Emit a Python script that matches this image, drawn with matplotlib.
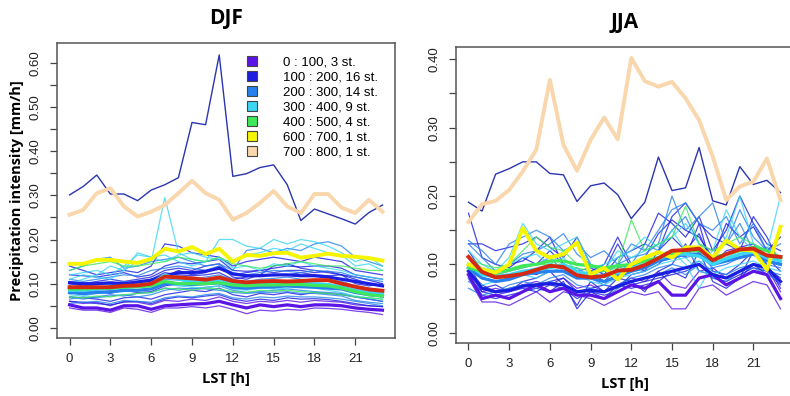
import matplotlib
matplotlib.use('Agg')
import matplotlib.pyplot as plt
from matplotlib.patches import Patch

hours = list(range(24))

group_labels = ['0 : 100, 3 st.', '100 : 200, 16 st.', '200 : 300, 14 st.', '300 : 400, 9 st.',
                '400 : 500, 4 st.', '600 : 700, 1 st.', '700 : 800, 1 st.']
group_colors = ['#5a14e6', '#1a1ee0', '#2680ee', '#3ad6f2', '#3ee85a', '#f5f500', '#f9d6ab']
navy = '#2a35b0'
red = '#d42a12'

# ---------------- DJF ----------------
djf_outlier = [0.301, 0.32, 0.346, 0.303, 0.303, 0.288, 0.312, 0.324, 0.34, 0.465, 0.46, 0.618,
               0.343, 0.349, 0.363, 0.369, 0.324, 0.243, 0.269, 0.258, 0.247, 0.235, 0.261, 0.278]
djf_peach = [0.256, 0.267, 0.305, 0.316, 0.275, 0.252, 0.263, 0.278, 0.305, 0.333, 0.305, 0.29,
             0.245, 0.26, 0.283, 0.31, 0.275, 0.26, 0.303, 0.303, 0.272, 0.26, 0.29, 0.263]
djf_yellow = [0.145, 0.145, 0.154, 0.154, 0.15, 0.147, 0.156, 0.179, 0.173, 0.183, 0.167, 0.179,
              0.15, 0.165, 0.163, 0.169, 0.17, 0.159, 0.163, 0.168, 0.163, 0.161, 0.158, 0.152]
djf_mean = [0.092, 0.092, 0.092, 0.092, 0.095, 0.096, 0.1, 0.116, 0.114, 0.112, 0.109, 0.114,
            0.106, 0.103, 0.105, 0.106, 0.105, 0.106, 0.108, 0.108, 0.1, 0.093, 0.087, 0.084]

djf_thin = {
    0: [[0.045, 0.04, 0.04, 0.035, 0.045, 0.042, 0.035, 0.045, 0.045, 0.048, 0.045, 0.05,
         0.042, 0.032, 0.04, 0.038, 0.042, 0.04, 0.045, 0.044, 0.042, 0.038, 0.035, 0.03],
        [0.06, 0.055, 0.058, 0.05, 0.06, 0.058, 0.052, 0.062, 0.06, 0.065, 0.062, 0.07,
         0.06, 0.055, 0.06, 0.058, 0.062, 0.058, 0.062, 0.06, 0.058, 0.052, 0.05, 0.048]],
    1: [[0.14, 0.13, 0.12, 0.125, 0.13, 0.125, 0.14, 0.19, 0.185, 0.17, 0.165, 0.16,
         0.14, 0.15, 0.155, 0.16, 0.155, 0.15, 0.16, 0.155, 0.15, 0.13, 0.125, 0.12],
        [0.1, 0.095, 0.098, 0.1, 0.09, 0.095, 0.1, 0.115, 0.13, 0.12, 0.125, 0.14,
         0.115, 0.11, 0.12, 0.118, 0.12, 0.125, 0.12, 0.118, 0.12, 0.11, 0.1, 0.095],
        [0.08, 0.075, 0.08, 0.078, 0.085, 0.08, 0.082, 0.095, 0.1, 0.098, 0.105, 0.1,
         0.09, 0.088, 0.092, 0.09, 0.095, 0.098, 0.095, 0.09, 0.09, 0.085, 0.08, 0.075],
        [0.07, 0.068, 0.065, 0.06, 0.068, 0.07, 0.065, 0.075, 0.08, 0.085, 0.082, 0.09,
         0.075, 0.07, 0.078, 0.075, 0.08, 0.075, 0.08, 0.078, 0.075, 0.07, 0.065, 0.06],
        [0.12, 0.118, 0.115, 0.12, 0.125, 0.115, 0.12, 0.14, 0.148, 0.145, 0.15, 0.155,
         0.13, 0.128, 0.13, 0.135, 0.14, 0.138, 0.14, 0.14, 0.135, 0.12, 0.115, 0.11],
        [0.09, 0.088, 0.09, 0.095, 0.1, 0.098, 0.11, 0.125, 0.12, 0.118, 0.12, 0.125,
         0.11, 0.115, 0.12, 0.14, 0.145, 0.135, 0.13, 0.125, 0.12, 0.1, 0.095, 0.1],
        [0.105, 0.1, 0.105, 0.11, 0.105, 0.11, 0.115, 0.13, 0.135, 0.13, 0.14, 0.145,
         0.12, 0.125, 0.13, 0.125, 0.13, 0.13, 0.125, 0.128, 0.12, 0.115, 0.108, 0.1],
        [0.06, 0.058, 0.055, 0.052, 0.058, 0.06, 0.055, 0.065, 0.07, 0.068, 0.072, 0.075,
         0.065, 0.06, 0.065, 0.062, 0.068, 0.065, 0.066, 0.064, 0.06, 0.055, 0.05, 0.048]],
    2: [[0.13, 0.14, 0.155, 0.16, 0.135, 0.14, 0.15, 0.155, 0.16, 0.15, 0.14, 0.145,
         0.13, 0.175, 0.18, 0.17, 0.18, 0.175, 0.19, 0.195, 0.185, 0.16, 0.15, 0.14],
        [0.085, 0.08, 0.085, 0.088, 0.09, 0.092, 0.095, 0.11, 0.108, 0.105, 0.1, 0.11,
         0.098, 0.095, 0.1, 0.098, 0.1, 0.095, 0.098, 0.095, 0.09, 0.08, 0.075, 0.07],
        [0.065, 0.07, 0.068, 0.072, 0.075, 0.07, 0.075, 0.085, 0.09, 0.088, 0.092, 0.095,
         0.085, 0.08, 0.082, 0.085, 0.088, 0.085, 0.082, 0.08, 0.078, 0.07, 0.065, 0.06],
        [0.11, 0.105, 0.11, 0.115, 0.12, 0.118, 0.13, 0.135, 0.14, 0.135, 0.13, 0.14,
         0.125, 0.12, 0.125, 0.13, 0.128, 0.125, 0.13, 0.128, 0.125, 0.115, 0.11, 0.105],
        [0.055, 0.058, 0.06, 0.055, 0.062, 0.06, 0.058, 0.068, 0.072, 0.07, 0.075, 0.078,
         0.068, 0.065, 0.07, 0.068, 0.072, 0.07, 0.07, 0.068, 0.065, 0.06, 0.055, 0.05],
        [0.095, 0.09, 0.1, 0.098, 0.105, 0.1, 0.11, 0.115, 0.118, 0.11, 0.115, 0.12,
         0.108, 0.105, 0.11, 0.112, 0.115, 0.11, 0.108, 0.11, 0.105, 0.095, 0.09, 0.085],
        [0.07, 0.065, 0.07, 0.075, 0.072, 0.078, 0.08, 0.09, 0.085, 0.09, 0.088, 0.085,
         0.08, 0.078, 0.08, 0.08, 0.082, 0.078, 0.078, 0.075, 0.072, 0.062, 0.058, 0.055]],
    3: [[0.11, 0.12, 0.115, 0.11, 0.13, 0.15, 0.15, 0.295, 0.17, 0.155, 0.15, 0.16,
         0.135, 0.14, 0.13, 0.145, 0.14, 0.15, 0.14, 0.135, 0.13, 0.12, 0.115, 0.11],
        [0.1, 0.11, 0.12, 0.14, 0.13, 0.17, 0.16, 0.165, 0.15, 0.14, 0.15, 0.2,
         0.2, 0.185, 0.18, 0.2, 0.19, 0.2, 0.195, 0.185, 0.17, 0.15, 0.16, 0.14],
        [0.075, 0.072, 0.078, 0.08, 0.082, 0.085, 0.09, 0.1, 0.095, 0.092, 0.09, 0.095,
         0.088, 0.085, 0.09, 0.088, 0.09, 0.092, 0.09, 0.085, 0.08, 0.072, 0.068, 0.065],
        [0.09, 0.088, 0.09, 0.092, 0.095, 0.1, 0.105, 0.12, 0.115, 0.11, 0.108, 0.115,
         0.105, 0.1, 0.1, 0.105, 0.1, 0.105, 0.102, 0.1, 0.095, 0.085, 0.08, 0.078],
        [0.12, 0.125, 0.13, 0.12, 0.14, 0.165, 0.16, 0.15, 0.165, 0.17, 0.16, 0.155,
         0.15, 0.165, 0.17, 0.18, 0.175, 0.19, 0.18, 0.17, 0.165, 0.14, 0.145, 0.13]],
    4: [[0.13, 0.14, 0.145, 0.15, 0.14, 0.14, 0.145, 0.15, 0.16, 0.155, 0.15, 0.16,
         0.145, 0.14, 0.135, 0.14, 0.145, 0.15, 0.145, 0.14, 0.14, 0.135, 0.13, 0.13],
        [0.07, 0.068, 0.072, 0.07, 0.075, 0.078, 0.08, 0.09, 0.088, 0.085, 0.09, 0.088,
         0.082, 0.08, 0.085, 0.083, 0.085, 0.082, 0.08, 0.078, 0.075, 0.07, 0.068, 0.065]],
}
djf_group_mean = {
    0: [0.052, 0.045, 0.045, 0.04, 0.05, 0.05, 0.042, 0.05, 0.052, 0.054, 0.055, 0.06,
        0.052, 0.045, 0.052, 0.048, 0.052, 0.048, 0.052, 0.052, 0.05, 0.045, 0.042, 0.04],
    1: [0.102, 0.1, 0.1, 0.102, 0.1, 0.104, 0.108, 0.118, 0.125, 0.125, 0.128, 0.135,
        0.122, 0.118, 0.118, 0.12, 0.12, 0.118, 0.118, 0.115, 0.11, 0.105, 0.1, 0.095],
    2: [0.08, 0.078, 0.08, 0.082, 0.085, 0.085, 0.088, 0.1, 0.1, 0.098, 0.1, 0.102,
        0.092, 0.09, 0.092, 0.093, 0.095, 0.093, 0.092, 0.09, 0.088, 0.08, 0.075, 0.072],
    3: [0.085, 0.085, 0.088, 0.09, 0.092, 0.095, 0.1, 0.12, 0.11, 0.105, 0.105, 0.11,
        0.1, 0.098, 0.1, 0.1, 0.102, 0.1, 0.1, 0.098, 0.092, 0.085, 0.08, 0.078],
    4: [0.088, 0.088, 0.09, 0.09, 0.092, 0.093, 0.095, 0.105, 0.1, 0.1, 0.1, 0.102,
        0.097, 0.095, 0.097, 0.097, 0.098, 0.098, 0.096, 0.095, 0.09, 0.082, 0.075, 0.072],
}

# ---------------- JJA ----------------
jja_outlier = [0.191, 0.178, 0.232, 0.24, 0.25, 0.25, 0.233, 0.231, 0.192, 0.215, 0.219, 0.202,
               0.167, 0.191, 0.257, 0.208, 0.212, 0.271, 0.193, 0.187, 0.243, 0.217, 0.223, 0.205]
jja_peach = [0.162, 0.188, 0.193, 0.209, 0.236, 0.268, 0.37, 0.275, 0.237, 0.282, 0.315, 0.283,
             0.402, 0.368, 0.36, 0.367, 0.343, 0.311, 0.258, 0.194, 0.214, 0.221, 0.255, 0.194]
jja_yellow = [0.1, 0.093, 0.088, 0.1, 0.153, 0.12, 0.11, 0.115, 0.132, 0.085, 0.095, 0.078,
              0.1, 0.11, 0.118, 0.11, 0.125, 0.125, 0.11, 0.135, 0.122, 0.12, 0.092, 0.155]
jja_mean = [0.111, 0.089, 0.081, 0.083, 0.086, 0.092, 0.098, 0.096, 0.084, 0.081, 0.083, 0.091,
            0.092, 0.099, 0.109, 0.12, 0.121, 0.123, 0.106, 0.115, 0.122, 0.123, 0.113, 0.111]

jja_thin = {
    0: [[0.08, 0.045, 0.045, 0.04, 0.05, 0.06, 0.045, 0.06, 0.055, 0.05, 0.04, 0.05,
         0.06, 0.055, 0.06, 0.035, 0.035, 0.065, 0.07, 0.055, 0.065, 0.075, 0.07, 0.035],
        [0.09, 0.06, 0.065, 0.06, 0.07, 0.075, 0.07, 0.08, 0.065, 0.07, 0.06, 0.07,
         0.08, 0.075, 0.09, 0.07, 0.065, 0.09, 0.095, 0.08, 0.09, 0.1, 0.095, 0.06]],
    1: [[0.13, 0.13, 0.12, 0.125, 0.13, 0.14, 0.125, 0.11, 0.14, 0.1, 0.09, 0.13,
         0.095, 0.11, 0.145, 0.165, 0.15, 0.14, 0.11, 0.16, 0.14, 0.155, 0.12, 0.14],
        [0.1, 0.065, 0.07, 0.06, 0.075, 0.08, 0.09, 0.07, 0.04, 0.075, 0.06, 0.08,
         0.075, 0.06, 0.09, 0.1, 0.13, 0.09, 0.085, 0.07, 0.08, 0.12, 0.1, 0.065],
        [0.11, 0.08, 0.075, 0.08, 0.09, 0.085, 0.095, 0.1, 0.085, 0.09, 0.075, 0.095,
         0.1, 0.11, 0.12, 0.14, 0.12, 0.145, 0.1, 0.12, 0.125, 0.13, 0.11, 0.09],
        [0.09, 0.07, 0.06, 0.065, 0.07, 0.07, 0.075, 0.08, 0.06, 0.065, 0.07, 0.065,
         0.085, 0.09, 0.1, 0.12, 0.11, 0.16, 0.09, 0.085, 0.1, 0.12, 0.095, 0.08],
        [0.175, 0.11, 0.1, 0.095, 0.11, 0.1, 0.12, 0.1, 0.09, 0.095, 0.085, 0.11,
         0.12, 0.13, 0.175, 0.16, 0.14, 0.17, 0.12, 0.15, 0.2, 0.16, 0.13, 0.12],
        [0.08, 0.06, 0.055, 0.06, 0.065, 0.06, 0.07, 0.065, 0.05, 0.06, 0.055, 0.06,
         0.07, 0.075, 0.08, 0.085, 0.09, 0.1, 0.08, 0.075, 0.085, 0.095, 0.09, 0.07],
        [0.12, 0.09, 0.085, 0.1, 0.105, 0.12, 0.14, 0.1, 0.08, 0.09, 0.1, 0.14,
         0.1, 0.09, 0.12, 0.17, 0.19, 0.16, 0.14, 0.13, 0.12, 0.17, 0.14, 0.1],
        [0.085, 0.055, 0.05, 0.055, 0.06, 0.065, 0.06, 0.075, 0.035, 0.06, 0.05, 0.07,
         0.065, 0.07, 0.075, 0.09, 0.08, 0.12, 0.075, 0.065, 0.08, 0.1, 0.085, 0.05]],
    2: [[0.135, 0.12, 0.1, 0.13, 0.14, 0.15, 0.14, 0.12, 0.13, 0.11, 0.12, 0.1,
         0.13, 0.12, 0.15, 0.18, 0.19, 0.16, 0.15, 0.17, 0.13, 0.16, 0.12, 0.13],
        [0.09, 0.08, 0.075, 0.08, 0.085, 0.09, 0.095, 0.1, 0.08, 0.085, 0.09, 0.085,
         0.09, 0.1, 0.11, 0.12, 0.11, 0.115, 0.095, 0.1, 0.11, 0.115, 0.1, 0.095],
        [0.1, 0.09, 0.085, 0.09, 0.095, 0.1, 0.11, 0.09, 0.095, 0.08, 0.07, 0.09,
         0.1, 0.13, 0.12, 0.15, 0.17, 0.13, 0.12, 0.13, 0.18, 0.14, 0.12, 0.1],
        [0.075, 0.065, 0.06, 0.07, 0.075, 0.07, 0.08, 0.085, 0.07, 0.065, 0.06, 0.07,
         0.08, 0.085, 0.095, 0.1, 0.095, 0.105, 0.09, 0.085, 0.095, 0.1, 0.09, 0.085],
        [0.13, 0.11, 0.09, 0.1, 0.115, 0.12, 0.13, 0.145, 0.115, 0.1, 0.085, 0.1,
         0.11, 0.115, 0.13, 0.2, 0.15, 0.17, 0.19, 0.13, 0.16, 0.12, 0.125, 0.11],
        [0.065, 0.055, 0.06, 0.065, 0.07, 0.065, 0.075, 0.07, 0.06, 0.055, 0.05, 0.065,
         0.075, 0.08, 0.085, 0.095, 0.085, 0.1, 0.08, 0.075, 0.09, 0.095, 0.085, 0.075]],
    3: [[0.12, 0.1, 0.09, 0.11, 0.16, 0.13, 0.12, 0.13, 0.14, 0.1, 0.09, 0.12,
         0.11, 0.12, 0.13, 0.14, 0.16, 0.13, 0.11, 0.14, 0.2, 0.13, 0.12, 0.2],
        [0.095, 0.085, 0.08, 0.085, 0.09, 0.095, 0.1, 0.11, 0.09, 0.08, 0.085, 0.09,
         0.1, 0.11, 0.115, 0.12, 0.1, 0.065, 0.1, 0.11, 0.12, 0.115, 0.105, 0.1],
        [0.08, 0.07, 0.075, 0.08, 0.085, 0.08, 0.09, 0.095, 0.085, 0.075, 0.07, 0.08,
         0.085, 0.09, 0.1, 0.105, 0.11, 0.09, 0.085, 0.095, 0.1, 0.105, 0.095, 0.09],
        [0.11, 0.095, 0.09, 0.1, 0.11, 0.115, 0.1, 0.12, 0.13, 0.095, 0.1, 0.11,
         0.12, 0.14, 0.125, 0.15, 0.12, 0.1, 0.12, 0.18, 0.14, 0.12, 0.115, 0.11]],
    4: [[0.11, 0.1, 0.095, 0.1, 0.12, 0.14, 0.125, 0.12, 0.1, 0.1, 0.09, 0.1,
         0.165, 0.12, 0.13, 0.14, 0.185, 0.13, 0.12, 0.13, 0.14, 0.13, 0.12, 0.11],
        [0.09, 0.085, 0.085, 0.09, 0.095, 0.1, 0.1, 0.1, 0.095, 0.09, 0.09, 0.095,
         0.1, 0.105, 0.11, 0.115, 0.115, 0.115, 0.105, 0.11, 0.115, 0.12, 0.115, 0.105]],
}
jja_group_mean = {
    0: [0.085, 0.05, 0.055, 0.05, 0.06, 0.07, 0.06, 0.065, 0.055, 0.055, 0.05, 0.06,
        0.07, 0.065, 0.075, 0.055, 0.055, 0.08, 0.085, 0.07, 0.08, 0.09, 0.085, 0.05],
    1: [0.09, 0.065, 0.06, 0.062, 0.068, 0.07, 0.072, 0.07, 0.06, 0.062, 0.06, 0.068,
        0.075, 0.08, 0.085, 0.09, 0.095, 0.1, 0.085, 0.08, 0.09, 0.1, 0.095, 0.075],
    2: [0.095, 0.08, 0.075, 0.078, 0.085, 0.088, 0.09, 0.09, 0.08, 0.08, 0.075, 0.082,
        0.09, 0.095, 0.105, 0.11, 0.115, 0.115, 0.1, 0.105, 0.11, 0.115, 0.105, 0.1],
    3: [0.1, 0.085, 0.082, 0.085, 0.09, 0.092, 0.095, 0.1, 0.09, 0.085, 0.082, 0.088,
        0.095, 0.1, 0.108, 0.115, 0.115, 0.112, 0.1, 0.108, 0.115, 0.118, 0.11, 0.105],
    4: [0.095, 0.09, 0.09, 0.092, 0.098, 0.1, 0.105, 0.105, 0.1, 0.098, 0.095, 0.098,
        0.1, 0.105, 0.11, 0.115, 0.12, 0.12, 0.11, 0.115, 0.12, 0.125, 0.12, 0.11],
}

label_font = 'Open Sans'
tick_font = 'Liberation Sans'


def draw_panel(ax, title, thin, group_mean, outlier, yellow, peach, mean, ylim, ymax_tick):
    for g, lines in thin.items():
        for vals in lines:
            ax.plot(hours, vals, color=group_colors[g], lw=0.9, alpha=0.8, zorder=2)
    ax.plot(hours, outlier, color=navy, lw=1.0, zorder=2)
    for g, vals in group_mean.items():
        ax.plot(hours, vals, color=group_colors[g], lw=2.3, zorder=3)
    ax.plot(hours, peach, color=group_colors[6], lw=2.8, zorder=3)
    ax.plot(hours, yellow, color=group_colors[5], lw=2.8, zorder=4)
    ax.plot(hours, mean, color=red, lw=2.8, zorder=5)

    ax.set_xlim(-0.92, 23.92)
    ax.set_ylim(*ylim)
    ax.set_xticks(range(0, 22, 3))
    yt = [i * 0.05 for i in range(int(round(ymax_tick / 0.05)) + 1)]
    ax.set_yticks(yt)
    ax.set_yticklabels(['%.2f' % v if i % 2 == 0 else '' for i, v in enumerate(yt)])
    ax.tick_params(axis='both', direction='out', length=5, width=0.9, color='#444444',
                   labelsize=9.5, labelcolor='#222222')
    ax.tick_params(axis='x', pad=6)
    ax.tick_params(axis='y', pad=6)
    for lab in ax.get_yticklabels():
        lab.set_rotation(90)
        lab.set_va('center')
        lab.set_family(tick_font)
    for lab in ax.get_xticklabels():
        lab.set_family(tick_font)
    for sp in ax.spines.values():
        sp.set_color('#555555')
        sp.set_linewidth(1.1)
    ax.set_title(title, family=label_font, fontweight='bold', fontsize=15, pad=14)
    ax.set_xlabel('LST [h]', family=label_font, fontweight='bold', fontsize=10.5, labelpad=5)


fig = plt.figure(figsize=(7.9, 3.96), dpi=100)
ax1 = fig.add_axes([0.0722, 0.1465, 0.4278, 0.7449])
ax2 = fig.add_axes([0.5772, 0.1338, 0.4266, 0.7475])

draw_panel(ax1, 'DJF', djf_thin, djf_group_mean, djf_outlier, djf_yellow, djf_peach, djf_mean,
           (-0.023, 0.645), 0.60)
draw_panel(ax2, 'JJA', jja_thin, jja_group_mean, jja_outlier, jja_yellow, jja_peach, jja_mean,
           (-0.015, 0.418), 0.40)

ax1.set_ylabel('Precipitation intensity [mm/h]', family=label_font, fontweight='bold',
               fontsize=10.5, labelpad=4)

handles = [Patch(facecolor=c, edgecolor='#444444', linewidth=0.8) for c in group_colors]
ax1.legend(handles, group_labels, loc='upper left', bbox_to_anchor=(0.545, 0.975),
           frameon=False, handlelength=0.8, handleheight=0.8, handletextpad=2.0,
           labelspacing=0.18, borderaxespad=0,
           prop={'family': tick_font, 'size': 9.5})

fig.savefig('out.png', dpi=100)
